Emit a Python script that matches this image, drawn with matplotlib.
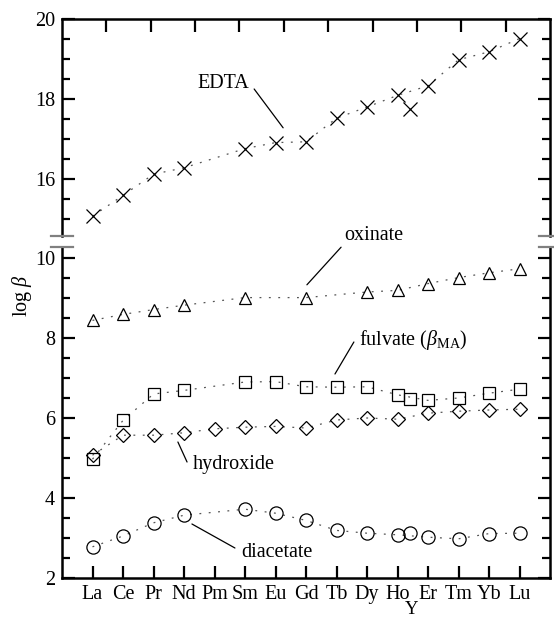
import matplotlib
matplotlib.use("Agg")
import matplotlib.pyplot as plt
from matplotlib.lines import Line2D
from matplotlib.transforms import blended_transform_factory
import numpy as np

plt.rcParams['font.family'] = ['Liberation Serif', 'DejaVu Serif']
plt.rcParams['mathtext.fontset'] = 'custom'
plt.rcParams['mathtext.rm'] = 'Liberation Serif'
plt.rcParams['mathtext.it'] = 'Liberation Serif:italic'

# ---------------- data ----------------
elements = ['La', 'Ce', 'Pr', 'Nd', 'Pm', 'Sm', 'Eu', 'Gd', 'Tb', 'Dy', 'Ho', 'Er', 'Tm', 'Yb', 'Lu']
elem_pos = list(range(1, 16))
y_pos = 11.4  # yttrium plotted between Ho and Er

edta_x = [1, 2, 3, 4, 6, 7, 8, 9, 10, 11, 12, 13, 14, 15]
edta_y = [15.07, 15.59, 16.12, 16.28, 16.76, 16.91, 16.93, 17.52, 17.80, 18.09, 18.33, 18.98, 19.18, 19.51]
edta_Y = 17.76

oxinate_x = [1, 2, 3, 4, 6, 8, 10, 11, 12, 13, 14, 15]
oxinate_y = [8.44, 8.59, 8.71, 8.82, 9.01, 9.01, 9.15, 9.19, 9.36, 9.51, 9.63, 9.73]

fulvate_x = [1, 2, 3, 4, 6, 7, 8, 9, 10, 11, 12, 13, 14, 15]
fulvate_y = [4.97, 5.94, 6.60, 6.69, 6.90, 6.91, 6.78, 6.77, 6.78, 6.58, 6.44, 6.50, 6.62, 6.72]
fulvate_Y = 6.48

hydroxide_x = [1, 2, 3, 4, 5, 6, 7, 8, 9, 10, 11, 12, 13, 14, 15]
hydroxide_y = [5.07, 5.57, 5.57, 5.63, 5.73, 5.77, 5.79, 5.75, 5.95, 6.00, 5.97, 6.12, 6.17, 6.20, 6.22]

diacetate_x = [1, 2, 3, 4, 6, 7, 8, 9, 10, 11, 12, 13, 14, 15]
diacetate_y = [2.78, 3.05, 3.38, 3.57, 3.72, 3.62, 3.44, 3.19, 3.12, 3.08, 3.02, 2.98, 3.11, 3.12]
diacetate_Y = 3.13

# ---------------- figure ----------------
W, H = 554, 618
fig = plt.figure(figsize=(W / 100, H / 100), dpi=100)

def fx(px):
    return px / W

def fy(py):
    return 1 - py / H

L, R = 62, 550
top_t, top_b = 19, 236
bot_t, bot_b = 247, 578
ppu = 40.0

ax_t = fig.add_axes([fx(L), fy(top_b), fx(R - L), (top_b - top_t) / H])
ax_b = fig.add_axes([fx(L), fy(bot_b), fx(R - L), (bot_b - bot_t) / H])

ax_t.set_ylim(20 - (top_b - top_t) / ppu, 20)
ax_b.set_ylim(2, 2 + (bot_b - bot_t) / ppu)
for ax in (ax_t, ax_b):
    ax.set_xlim(0, 16)
    for s in ax.spines.values():
        s.set_linewidth(1.8)
ax_t.spines['bottom'].set_visible(False)
ax_b.spines['top'].set_visible(False)

fs = 14.5
line_kw = dict(color='#555555', lw=0.9, ls=(0, (1.5, 6)))
mk_kw = dict(mfc='none', mec='black', mew=0.9, ls='none')

# EDTA
ax_t.plot(edta_x, edta_y, **line_kw)
ax_t.plot(edta_x, edta_y, marker='x', ms=9.5, **mk_kw)
ax_t.plot([y_pos], [edta_Y], marker='x', ms=9.5, **mk_kw)

# oxinate
ax_b.plot(oxinate_x, oxinate_y, **line_kw)
ax_b.plot(oxinate_x, oxinate_y, marker='^', ms=9, **mk_kw)

# fulvate
ax_b.plot(fulvate_x, fulvate_y, **line_kw)
ax_b.plot(fulvate_x, fulvate_y, marker='s', ms=8.5, **mk_kw)
ax_b.plot([y_pos], [fulvate_Y], marker='s', ms=8.5, **mk_kw)

# hydroxide
ax_b.plot(hydroxide_x, hydroxide_y, **line_kw)
ax_b.plot(hydroxide_x, hydroxide_y, marker='D', ms=7, **mk_kw)

# diacetate
ax_b.plot(diacetate_x, diacetate_y, **line_kw)
ax_b.plot(diacetate_x, diacetate_y, marker='o', ms=9.5, **mk_kw)
ax_b.plot([y_pos], [diacetate_Y], marker='o', ms=9.5, **mk_kw)

# ---------------- ticks ----------------
ax_t.set_yticks([16, 18, 20])
ax_t.set_yticks(np.arange(15, 20.01, 0.5), minor=True)
ax_b.set_yticks([2, 4, 6, 8, 10])
ax_b.set_yticks(np.arange(2, 10.01, 0.5), minor=True)

ax_b.set_xticks(elem_pos)
ax_b.set_xticklabels(elements)
ax_t.set_xticks([16 * k / 11 for k in range(1, 11)])
ax_t.set_xticklabels([])

for ax in (ax_t, ax_b):
    ax.tick_params(which='major', direction='in', length=9, width=1.6,
                   left=True, right=True, labelsize=fs, pad=5)
    ax.tick_params(which='minor', direction='in', length=5.5, width=1.6,
                   left=True, right=True)
ax_t.tick_params(axis='x', which='both', top=True, bottom=False, labelbottom=False)
ax_b.tick_params(axis='x', which='both', top=False, bottom=True, pad=5)

ytrans = blended_transform_factory(ax_b.transData, fig.transFigure)
ax_b.text(11.45, 0.0, 'Y', transform=ytrans, ha='center', va='bottom', fontsize=13.5)

# break marks
for py in (top_b, bot_t):
    for x0, x1 in ((51, 73), (539, 561)):
        fig.add_artist(Line2D([fx(x0), fx(x1)], [fy(py), fy(py)],
                              color='#808080', lw=1.6, transform=fig.transFigure,
                              clip_on=False))

fig.text(fx(22), fy(296), r'log $\beta$', rotation=90, ha='center', va='center', fontsize=fs)

# ---------------- annotations ----------------
ann_line = dict(arrowstyle='-', color='black', lw=0.9, shrinkA=0, shrinkB=0)
ax_t.annotate('', xy=(7.25, 17.28), xytext=(6.3, 18.25), arrowprops=ann_line)
ax_t.text(5.28, 18.4, 'EDTA', ha='center', va='center', fontsize=fs)

ax_b.annotate('', xy=(8.03, 9.33), xytext=(9.15, 10.27), arrowprops=ann_line,
              annotation_clip=False)
ax_b.text(10.23, 10.55, 'oxinate', ha='center', va='center', fontsize=fs, clip_on=False)

ax_b.annotate('', xy=(8.95, 7.1), xytext=(9.57, 7.9), arrowprops=ann_line)
ax_b.text(9.74, 7.95, r'fulvate ($\beta_{\rm MA}$)', ha='left', va='center', fontsize=fs)

ax_b.annotate('', xy=(3.8, 5.4), xytext=(4.1, 4.9), arrowprops=ann_line)
ax_b.text(4.3, 4.83, 'hydroxide', ha='left', va='center', fontsize=fs)

ax_b.annotate('', xy=(4.26, 3.35), xytext=(5.67, 2.75), arrowprops=ann_line)
ax_b.text(5.87, 2.63, 'diacetate', ha='left', va='center', fontsize=fs)

fig.savefig('out.png', dpi=100)
